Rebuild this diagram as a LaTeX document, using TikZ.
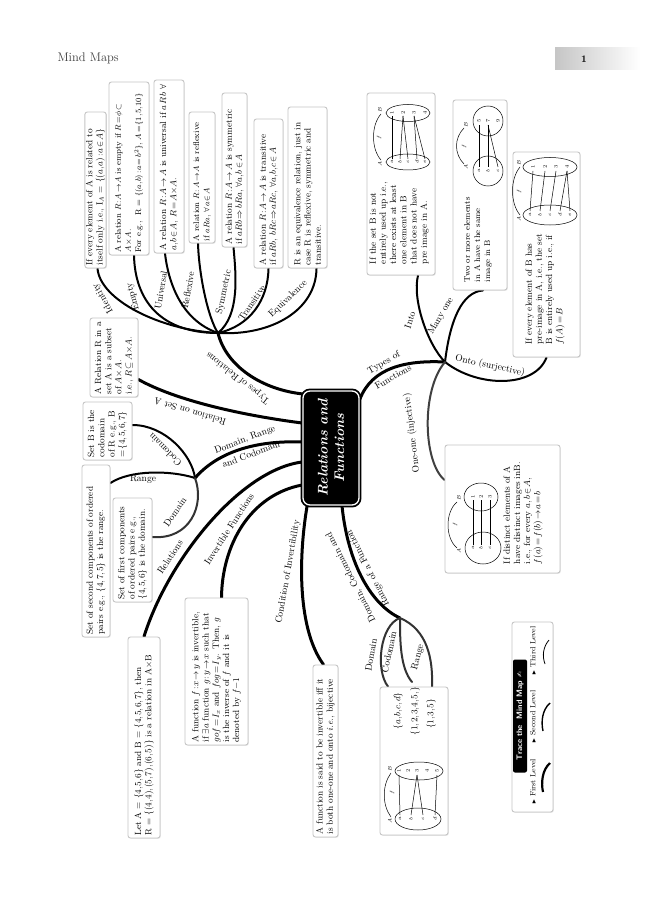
\documentclass[tikz,border=0pt]{standalone}
\usepackage{amssymb}
\usepackage{fontspec}
\newfontfamily\dejavu{DejaVu Sans}
\usetikzlibrary{calc,shadows,backgrounds}
\newcommand\mymu{\thickmuskip=2mu plus 1mu\medmuskip=1.5mu\thinmuskip=1.5mu}
\newcommand\boxfont{\fontsize{9}{10.2}\selectfont\mymu}
\newcommand\boxfontS{\fontsize{8.3}{10.2}\selectfont\mymu}
\begin{document}
\begin{tikzpicture}[x=1pt,y=-1pt,
 leaf/.style={draw=gray!45, line width=0.9pt, fill=white, rounded corners=2.5pt, rotate=90, align=left, inner xsep=2.5pt, inner ysep=1.2pt, font=\boxfont, drop shadow={opacity=0.2, shadow xshift=0.8pt, shadow yshift=-0.8pt}},
 txt/.style={rotate=90, align=left, inner sep=0pt, font=\boxfont},
 lvl1/.style={line width=3pt, line cap=round},
 lvl2/.style={line width=2pt, line cap=round},
 lab/.style={font=\fontsize{9.5}{10.5}\selectfont, inner sep=0.5pt, align=center},
 el/.style={font=\fontsize{5}{5}\selectfont, inner sep=0.3pt},
 thin/.style={line width=0.5pt},
 central/.style={rotate=90, fill=black, draw=black, double=white, double distance=1.3pt, line width=1.8pt, rounded corners=7pt, minimum width=114pt, minimum height=56pt, text=white, font=\bfseries\itshape\fontsize{14}{16.5}\selectfont, align=center},
]
\useasboundingbox (0,0) rectangle (660,904);

% header
\node[anchor=west, font=\fontsize{12.5}{13}\selectfont, text=black!75] (hdr) at (54,58) {Mind Maps};
\node[left color=gray!45, right color=white, minimum width=85pt, minimum height=22pt, inner sep=0pt] (pgbox) at (597.5,59) {};
\node[font=\bfseries\fontsize{10}{11}\selectfont] (pgnum) at (584,59) {1};

% central
\node[central] (c) at (331,448) {Relations and\\Functions};

% ---- types of relations leaves
\node[leaf, text width=151pt, minimum height=21pt] (ident) at (95.5,190) {If every element of A is related to\\itself only i.e., I$_A$ = $\{(a,a):a\in A\}$};
\node[leaf, font=\boxfontS, text width=168pt, minimum height=40pt] (empty) at (129,168.5) {A relation $R:A\to A$ is empty if $R=\phi\subset$\\$A\times A$.\\For e.g.,\ \ R = $\{(a,b):a=b^2\}$, $A=\{1,5,10\}$};
\node[leaf, text width=168pt, minimum height=30pt] (univ) at (169,166.5) {A relation $R:A\to A$ is universal if $a\,R\,b\ \forall$\\$a,b\in A$, $R=A{\times}A$.};
\node[leaf, font=\boxfontS, inner xsep=2pt, text width=127pt, minimum height=26pt] (refl) at (202,177.5) {A relation $R:A\to A$ is reflexive\\if $aRa$, $\forall\,a\in A$};
\node[leaf, text width=149pt, minimum height=25pt] (symm) at (234.5,170) {A relation $R:A\to A$ is symmetric\\if $aRb\Rightarrow bRa$, $\forall a,b\in A$};
\node[leaf, text width=144pt, minimum height=29pt] (trans) at (268.5,193.5) {A relation $R:A\to A$ is transitive\\if $aRb$, $bRc\Rightarrow aRc$, $\forall a,b,c\in A$};
\node[leaf, text width=156pt, minimum height=39pt] (equiv) at (307.5,187.5) {R is an equivalence relation, just in\\case R is reflexive, symmetric and\\transitive.};

% relation on set A
\node[leaf, text width=74pt, minimum height=48pt] (relA) at (114,357.5) {A Relation R in a\\set A is a subset\\of $A{\times}A$.\\i.e., $R\subseteq A{\times}A$.};

% domain range codomain
\node[leaf, text width=53pt, minimum height=49pt] (codbox) at (107.5,431) {Set B is the\\codomain\\of R e.g., B\\$=\{4,5,6,7\}$};
\node[leaf, text width=167pt, minimum height=28pt] (rangebox) at (96,551) {Set of second components of ordered\\pairs e.g., $\{4,7,5\}$ is the range.};
\node[leaf, text width=99pt, minimum height=39pt] (dombox) at (132.5,550) {Set of first components\\of ordered pairs e.g.,\\$\{4,5,6\}$ is the domain.};

% relations
\node[leaf, text width=196pt, minimum height=32pt] (letA) at (144,737.5) {Let A = $\{4,5,6\}$ and B = $\{4,5,6,7\}$, then\\R = $\{(4,4),(5,7),(6,5)\}$ is a relation in A$\times$B};

% invertible
\node[leaf, text width=142pt, minimum height=63pt] (inv) at (216.5,671.5) {A function $f:x\to y$ is invertible,\\if $\exists a$ function $g:y\to x$ such that\\$gof=I_x$ and $fog=I_y$. Then, $g$\\is the inverse of $f$ and it is\\denoted by $f{-}1$};

% condition
\node[leaf, text width=167pt, minimum height=25pt] (cond) at (325.5,751) {A function is said to be invertible iff it\\is both one-one and onto \textit{i.e.}, bijective};

% DCR box
\node[leaf, minimum width=148pt, minimum height=68pt] (dcrbox) at (414,761) {};
\node[txt] (dcr1) at (398,711) {$\{a,b,c,d\}$};
\node[txt] (dcr2) at (415,711) {$\{1,2,3,4,5,\}$};
\node[txt] (dcr3) at (431,714) {$\{1,3,5\}$};

% types of functions boxes
\node[leaf, minimum width=182pt, minimum height=68pt] (intobox) at (401,184) {};
\node[txt, text width=88pt] (intotxt) at (399,220) {If the set B is not\\entirely used up i.e.,\\there exists at least\\one element in B\\that does not have\\pre image in A.};
\node[leaf, minimum width=190pt, minimum height=54pt] (manybox) at (480,195) {};
\node[txt, font=\boxfontS, text width=90pt] (manytxt) at (478,237) {Two or more elements\\in A have the same\\image in B};
\node[leaf, minimum width=205pt, minimum height=67pt] (ontobox) at (546.5,254.5) {};
\node[txt, text width=115pt] (ontotxt) at (545,287) {If every element of B has\\pre-image in A, i.e., the set\\B is entirely used up i.e., if\\$f(A)=B$};
\node[leaf, minimum width=128pt, minimum height=115pt] (onebox) at (502.5,509) {};
\node[txt, text width=108pt] (onetxt) at (523,510) {If distinct elements of A\\have distinct images inB.\\i.e., for every $a,b\in A$,\\$f(a)=f(b)\to a=b$};

% trace box
\node[leaf, minimum width=190pt, minimum height=41pt] (tracebox) at (532.5,717) {};
\node[rotate=90, fill=black, text=white, rounded corners=2pt, font=\sffamily\bfseries\fontsize{8}{9}\selectfont, inner sep=2pt, minimum width=113pt, minimum height=14pt] (tracehd) at (520,716) {Trace the\ \ Mind Map {\dejavu\fontsize{7}{8}\selectfont ✍}};
\node[rotate=90, font=\fontsize{7.5}{8}\selectfont, inner sep=0pt] (first) at (533,782) {{\tiny$\blacktriangleright$} First Level};
\node[rotate=90, font=\fontsize{7.5}{8}\selectfont, inner sep=0pt] (second) at (533,717) {{\tiny$\blacktriangleright$} Second Level};
\node[rotate=90, font=\fontsize{7.5}{8}\selectfont, inner sep=0pt] (third) at (533,651) {{\tiny$\blacktriangleright$} Third Level};
\draw[line width=2.2pt] (550,763) .. controls (542,770) and (541,783) .. (543,792);
\draw[line width=1.4pt] (550,703) .. controls (542,710) and (541,722) .. (543,731);
\draw[line width=0.8pt] (549,640) .. controls (543,647) and (542,656) .. (545,664);

% ---- mini diagrams
\begin{scope}[shift={(481,522)}, x=1pt, y=1pt, rotate=90, transform shape]
 \draw[thin] (-26,-2) ellipse [x radius=16, y radius=18];
 \draw[thin] (25,0) ellipse [x radius=14, y radius=17];
 \foreach \n/\v in {a/8,b/0,c/-9} \node[el] (o-\n) at (-26,\v) {$\n$};
 \foreach \n/\v in {1/8,2/0,3/-9} \node[el] (o-\n) at (25,\v) {\n};
 \foreach \v in {8,0,-9} \draw[thin] (-23,\v) -- (22,\v);
 \draw[thin] (-26,24) .. controls (-16,36) and (10,36) .. (20,24);
 \node[el] (o-A) at (-29,22) {$A$}; \node[el] (o-B) at (24,22) {$B$}; \node[el] (o-f) at (-2,26) {$f$};
\end{scope}

\begin{scope}[shift={(408,137)}, x=1pt, y=1pt, rotate=90, transform shape]
 \draw[thin] (-25,0) ellipse [x radius=8, y radius=22];
 \draw[thin] (24,0) ellipse [x radius=8.5, y radius=22];
 \foreach \n/\v in {a/16,b/8,c/0,d/-9,e/-17} \node[el] (i-\n) at (-25,\v) {$\n$};
 \foreach \n/\v in {1/16,2/5,3/-6,4/-17} \node[el] (i-\n) at (24,\v) {\n};
 \foreach \p/\q in {16/16,8/5,0/5,-9/-6,-17/-6} \draw[thin] (-22,\p) -- (21,\q);
 \draw[thin] (-23,27) .. controls (-12,37) and (12,37) .. (23,27);
 \node[el] (i-A) at (-27,28) {$A$}; \node[el] (i-B) at (27,28) {$B$}; \node[el] (i-f) at (0,29) {$f$};
\end{scope}

\begin{scope}[shift={(488,146)}, x=1pt, y=1pt, rotate=90, transform shape]
 \draw[thin] (-25,0) circle [radius=15];
 \draw[thin] (25,0) circle [radius=15];
 \foreach \n/\v in {a/9,b/0,c/-10} \node[el] (m-\n) at (-25,\v) {$\n$};
 \foreach \n/\v in {5/9,7/0,9/-10} \node[el] (m-\n) at (25,\v) {\n};
 \foreach \p/\q in {9/9,0/0,-10/0} \draw[thin] (-21,\p) -- (21,\q);
 \draw[thin] (-18,24) .. controls (-8,34) and (8,34) .. (18,24);
 \node[el] (m-A) at (-21,22) {$A$}; \node[el] (m-B) at (21,22) {$B$}; \node[el] (m-f) at (0,24) {$f$};
\end{scope}

\begin{scope}[shift={(550,191)}, x=1pt, y=1pt, rotate=90, transform shape]
 \draw[thin] (-24,0) ellipse [x radius=10, y radius=27];
 \draw[thin] (24,0) ellipse [x radius=9.5, y radius=27];
 \foreach \n/\v in {a/20,b/10,c/0,d/-10,e/-20} \node[el] (s-\n) at (-24,\v) {$\n$};
 \foreach \n/\v in {1/17,2/5,3/-6,4/-17} \node[el] (s-\n) at (24,\v) {\n};
 \foreach \p/\q in {20/17,10/5,0/-6,-10/-17,-20/-17} \draw[thin] (-20,\p) -- (20,\q);
 \draw[thin] (-24,30) .. controls (-12,40) and (12,40) .. (24,30);
 \node[el] (s-A) at (-28,31) {$A$}; \node[el] (s-B) at (28,31) {$B$}; \node[el] (s-f) at (0,31) {$f$};
\end{scope}

\begin{scope}[shift={(418,795)}, x=1pt, y=1pt, rotate=90, transform shape]
 \draw[thin] (-24,0) ellipse [x radius=11, y radius=23];
 \draw[thin] (24,-1) ellipse [x radius=9, y radius=24];
 \foreach \n/\v in {a/18,b/7,c/-5,d/-17} \node[el] (d-\n) at (-24,\v) {$\n$};
 \foreach \n/\v in {1/19,2/10,3/1,4/-9,5/-19} \node[el] (d-\n) at (24,\v) {\n};
 \foreach \p/\q in {18/19,7/1,-5/1,-17/-19} \draw[thin] (-20,\p) -- (20,\q);
 \draw[thin] (-22,27) .. controls (-10,36) and (10,36) .. (22,27);
 \node[el] (d-A) at (-26,28) {$A$}; \node[el] (d-B) at (26,28) {$B$}; \node[el] (d-f) at (3,26) {$f$};
\end{scope}

% ---- hubs
\coordinate (hubR) at (218,333);
\coordinate (hubD) at (195,478);
\coordinate (hubF) at (445,362);
\coordinate (hubC) at (400,618);
\coordinate (codoEnd) at (412,682);

% ---- connectors
\begin{scope}[on background layer]
\fill[white] (0,0) rectangle (660,904);
\draw[lvl1] ($(c.north east)+(2,4)$) .. controls (262,390) and (226,366) .. (hubR);
\draw[lvl1] ($(c.north)+(0,-25)$) .. controls (240,415) and (175,400) .. ($(relA.south)+(0,22)$);
\draw[lvl1] ($(c.north)+(0,-6)$) .. controls (250,440) and (215,455) .. (hubD);
\draw[lvl1] ($(c.north)+(0,14)$) .. controls (240,470) and (168,560) .. (letA.east);
\draw[lvl1] ($(c.north)+(0,37)$) .. controls (250,495) and (222,545) .. ($(inv.east)+(5,0)$);
\draw[lvl1] ($(c.north west)+(5,0)$) .. controls (298,560) and (298,630) .. ($(cond.east)+(-2,0)$);
\draw[lvl1] ($(c.west)+(11,0)$) .. controls (348,565) and (372,605) .. (hubC);
\draw[lvl1] ($(c.south east)+(0,9)$) .. controls (372,368) and (405,360) .. (hubF);
% relation types
\draw[lvl2] (hubR) .. controls (160,330) and (100,300) .. ($(ident.west)+(2,0)$);
\draw[lvl2] (hubR) .. controls (160,333) and (135,300) .. ($(empty.west)+(5,0)$);
\draw[lvl2] (hubR) .. controls (180,320) and (168,280) .. ($(univ.west)+(-4,0)$);
\draw[lvl2] (hubR) .. controls (208,318) and (199,275) .. ($(refl.west)+(-4,0)$);
\draw[lvl2] (hubR) .. controls (240,315) and (236,275) .. ($(symm.west)+(-1,0)$);
\draw[lvl2] (hubR) .. controls (250,326) and (268,300) .. (trans.west);
\draw[lvl2] (hubR) .. controls (272,336) and (316,310) .. ($(equiv.west)+(9,0)$);
% domain range codomain
\draw[lvl2] (hubD) .. controls (192,455) and (165,425) .. ($(codbox.south)+(0,-6)$);
\draw[lvl2] (hubD) .. controls (170,470) and (130,470) .. ($(rangebox.south)+(0,-68)$);
\draw[lvl2, black!80] (hubD) .. controls (205,505) and (190,540) .. ($(dombox.south)+(0,-13)$);
% types of functions
\draw[lvl2] (hubF) .. controls (428,345) and (412,300) .. ($(intobox.west)+(17,0)$);
\draw[lvl2] (hubF) .. controls (450,320) and (462,292) .. ($(manybox.west)+(3,0)$);
\draw[lvl2] (hubF) .. controls (478,388) and (535,388) .. (ontobox.west);
\draw[lvl2, black!75] (hubF) .. controls (421,390) and (423,462) .. ($(onebox.north)+(0,-29)$);
% dcr
\draw[lvl2, black!80] (hubC) .. controls (380,625) and (375,670) .. ($(dcrbox.east)+(-26,0)$);
\draw[lvl2, black!80] (hubC) .. controls (400,640) and (400,668) .. (codoEnd);
\draw[lvl2, black!80] (hubC) .. controls (428,630) and (433,660) .. ($(dcrbox.east)+(18,0)$);
\end{scope}

% ---- labels
\node[lab, rotate=142] (l-tr) at (238,378) {Types of Relations};
\node[lab, rotate=163] (l-rs) at (190,412) {Relation on Set A};
\node[lab, rotate=21] (l-drc1) at (245,440) {Domain, Range};
\node[lab, rotate=21] (l-drc2) at (251,454) {and Codomain};
\node[lab, rotate=57] (l-rel) at (170,557) {Relations};
\node[lab, rotate=57] (l-inv) at (229,529) {Invertible Functions};
\node[lab, rotate=80] (l-cond) at (288,572) {Condition of Invertibility};
\node[lab, rotate=117] (l-dcr1) at (351,577) {Domain, Codomain and};
\node[lab, rotate=117] (l-dcr2) at (368,568) {Range of a Function};
\node[lab, rotate=30] (l-tf1) at (384,363) {Types of};
\node[lab, rotate=30] (l-tf2) at (393,377) {Functions};
\node[lab, rotate=72] (l-into) at (410,320) {Into};
\node[lab, rotate=60] (l-many) at (441,316) {Many one};
\node[lab, rotate=-12] (l-onto) at (490,366) {Onto (surjective)};
\node[lab, rotate=97] (l-one) at (412,433) {One-one (injective)};
\node[lab, rotate=120] (l-id) at (103,298) {Identity};
\node[lab, rotate=105] (l-em) at (133,297) {Empty};
\node[lab, rotate=80] (l-un) at (161,290) {Universal};
\node[lab, rotate=80] (l-re) at (188,290) {Reflexive};
\node[lab, rotate=78] (l-sy) at (224,292) {Symmetric};
\node[lab, rotate=56] (l-tt) at (252,303) {Transitive};
\node[lab, rotate=44] (l-eq) at (288,299) {Equivalence};
\node[lab, rotate=135] (l-cod) at (165,450) {Codomain};
\node[lab] (l-ran) at (143,479) {Range};
\node[lab, rotate=55] (l-dom) at (175,512) {Domain};
\node[lab, rotate=80] (l-d1) at (371,655) {Domain};
\node[lab, rotate=78] (l-d2) at (389,652) {Codomain};
\node[lab, rotate=75] (l-d3) at (418,657) {Range};
\end{tikzpicture}
\end{document}
